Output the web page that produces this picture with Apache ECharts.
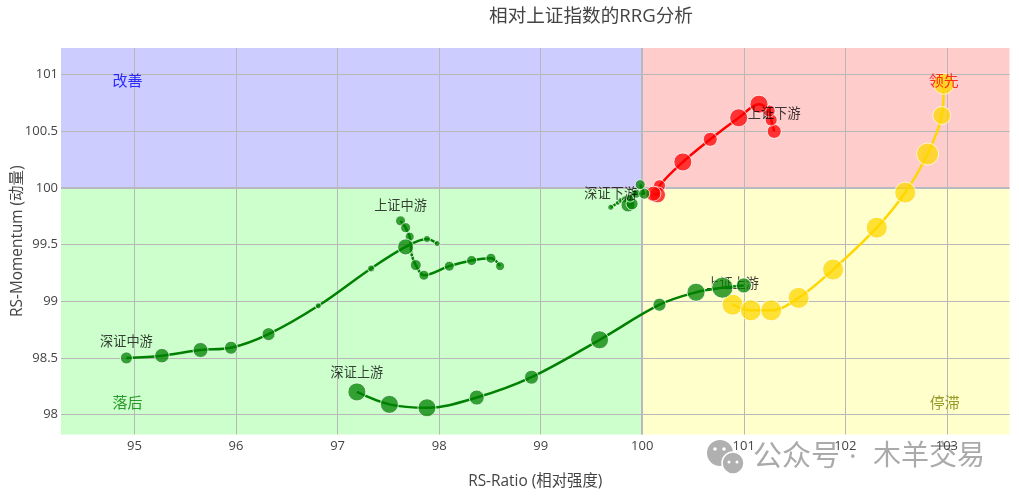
<!DOCTYPE html>
<html>
<head>
<meta charset="utf-8">
<style>
  html, body { margin: 0; padding: 0; background: #fff; }
  #main { width: 1019px; height: 500px; }
</style>
<script src="https://cdn.jsdelivr.net/npm/echarts@6/dist/echarts.min.js"></script>
</head>
<body>
<div id="main"></div>
<script>
// 上证上游
var shUpX = [100.89, 101.07, 101.27, 101.54, 101.88, 102.31, 102.59, 102.81, 102.95, 102.97];
var shUpY = [98.97, 98.92, 98.92, 99.03, 99.28, 99.65, 99.96, 100.30, 100.64, 100.92];
var shUpSize = [21, 21, 21, 21, 21, 21, 21, 22, 18, 21];
// 上证中游
var shMidX = [97.62, 97.67, 97.71, 97.73, 97.77, 97.85, 98.10, 98.32, 98.51, 98.60];
var shMidY = [99.71, 99.65, 99.57, 99.41, 99.32, 99.23, 99.31, 99.36, 99.38, 99.31];
var shMidSize = [10, 10, 9, 4, 11, 10, 10, 10, 10, 9];
// 上证下游
var shDownX = [101.30, 101.27, 101.25, 101.15, 100.95, 100.67, 100.40, 100.17, 100.15, 100.11];
var shDownY = [100.50, 100.60, 100.68, 100.74, 100.62, 100.43, 100.23, 100.02, 99.94, 99.95];
var shDownSize = [14, 12, 12, 18, 18, 14, 18, 12, 16, 15];
// 深证上游
var szUpX = [97.19, 97.51, 97.88, 98.37, 98.91, 99.58, 100.17, 100.53, 100.79, 101.00];
var szUpY = [98.20, 98.09, 98.06, 98.15, 98.33, 98.66, 98.97, 99.08, 99.12, 99.14];
var szUpSize = [18, 18, 18, 15, 14, 18, 13, 18, 21, 15];
// 深证中游
var szMidX = [94.92, 95.27, 95.65, 95.95, 96.32, 96.81, 97.33, 97.67, 97.88, 97.98];
var szMidY = [98.50, 98.52, 98.57, 98.59, 98.71, 98.96, 99.29, 99.48, 99.55, 99.51];
var szMidSize = [12, 14.5, 15, 13, 13, 6, 7, 16, 7, 6];
// 深证下游
var szDownX = [99.69, 99.76, 99.79, 99.83, 99.86, 99.90, 99.88, 99.94, 100.02, 99.98];
var szDownY = [99.83, 99.87, 99.89, 99.90, 99.85, 99.86, 99.91, 99.95, 99.95, 100.03];
var szDownSize = [6, 5, 6, 7, 14, 12, 8, 9, 11, 10];

// 象限标注
var quadrantNames = ['改善', '领先', '落后', '停滞'];
var quadrantX = [94.93, 102.97, 94.93, 102.98];
var quadrantY = [100.94, 100.94, 98.10, 98.10];
var quadrantColors = ['#0000ff', '#ff0000', '#008000', '#808000'];

// 刻度
var xTicks = [95, 96, 97, 98, 99, 100, 101, 102, 103];
var yTicks = [98, 98.5, 99, 99.5, 100, 100.5, 101];

var xMin = 94.276, xMax = 103.617;
var yMin = 97.824, yMax = 101.236;
var center = 100;

var font = '"Open Sans", "Noto Sans CJK SC", sans-serif';

function trail(name, xs, ys, sizes, color, z) {
  return {
    name: name,
    type: 'line',
    z: z,
    smooth: 0.35,
    showSymbol: true,
    showAllSymbol: true,
    symbol: 'circle',
    symbolSize: function (val, params) {
      return sizes[params.dataIndex];
    },
    lineStyle: { color: color, width: 2.5 },
    itemStyle: { color: color, opacity: 0.75, borderColor: '#fff', borderWidth: 1 },
    emphasis: { disabled: true },
    data: xs.map(function (x, i) {
      var item = { value: [x, ys[i]] };
      // 只在起点标名字
      if (i === 0) {
        item.label = {
          show: true,
          position: 'top',
          distance: 3,
          formatter: name,
          color: '#000',
          fontSize: 13.2,
          fontFamily: font
        };
      }
      return item;
    })
  };
}

var option = {
  backgroundColor: '#fff',
  animation: false,
  textStyle: { fontFamily: font },
  title: {
    text: '相对上证指数的RRG分析',
    left: 586,
    top: 2,
    textAlign: 'center',
    textStyle: { fontSize: 18.6, fontWeight: 'normal', color: '#444', fontFamily: font }
  },
  grid: { left: 61, right: 9.5, top: 48, bottom: 65.5, outerBoundsMode: 'none' },
  xAxis: {
    type: 'value',
    min: xMin,
    max: xMax,
    name: 'RS-Ratio (相对强度)',
    nameLocation: 'middle',
    nameMoveOverlap: false,
    nameGap: 39,
    nameTextStyle: { fontSize: 15.4, color: '#444' },
    axisLine: { show: false },
    axisTick: { show: false, customValues: xTicks },
    axisLabel: { color: '#444', fontSize: 13, margin: 5, customValues: xTicks },
    splitLine: { show: true, lineStyle: { color: '#b8b8b8', width: 1 } }
  },
  yAxis: {
    type: 'value',
    min: yMin,
    max: yMax,
    name: 'RS-Momentum (动量)',
    nameLocation: 'middle',
    nameMoveOverlap: false,
    nameGap: 36,
    nameTextStyle: { fontSize: 15.4, color: '#444' },
    axisLine: { show: false },
    axisTick: { show: false, customValues: yTicks },
    axisLabel: { color: '#444', fontSize: 13, margin: 3, customValues: yTicks },
    splitLine: { show: true, lineStyle: { color: '#b8b8b8', width: 1 } }
  },
  graphic: [
    {
      type: 'group', x: 0, y: 0, z: 1, silent: true,
      children: [
        { type: 'circle', shape: { cx: 720, cy: 453, r: 13 }, style: { fill: '#b0b0b0' } },
        { type: 'circle', shape: { cx: 733, cy: 463, r: 11 }, style: { fill: '#b0b0b0', stroke: '#fff', lineWidth: 1.5 } },
        { type: 'circle', shape: { cx: 715, cy: 449, r: 1.8 }, style: { fill: '#fff' } },
        { type: 'circle', shape: { cx: 724, cy: 449, r: 1.8 }, style: { fill: '#fff' } },
        { type: 'circle', shape: { cx: 729, cy: 462, r: 1.5 }, style: { fill: '#fff' } },
        { type: 'circle', shape: { cx: 737, cy: 462, r: 1.5 }, style: { fill: '#fff' } },
        { type: 'text', x: 753, y: 443, style: { text: '公众号', fill: '#aaa', fontSize: 29, fontFamily: font } },
        { type: 'text', x: 849, y: 443, style: { text: '·', fill: '#aaa', fontSize: 29, fontFamily: font } },
        { type: 'text', x: 873, y: 443, style: { text: '木羊交易', fill: '#aaa', fontSize: 28, fontFamily: font } }
      ]
    }
  ],
  series: [
    {
      // 四象限底色和中心线
      name: 'bg',
      type: 'line',
      z: -2,
      data: [],
      silent: true,
      markArea: {
        silent: true,
        z: -2,
        itemStyle: { opacity: 1 },
        data: [
          [{ coord: [xMin, center], itemStyle: { color: '#ccccff' } }, { coord: [center, yMax] }],
          [{ coord: [center, center], itemStyle: { color: '#ffcccc' } }, { coord: [xMax, yMax] }],
          [{ coord: [xMin, yMin], itemStyle: { color: '#ccffcc' } }, { coord: [center, center] }],
          [{ coord: [center, yMin], itemStyle: { color: '#ffffcc' } }, { coord: [xMax, center] }]
        ]
      },
      markLine: {
        silent: true,
        z: 1,
        symbol: 'none',
        label: { show: false },
        lineStyle: { color: '#b8b8c0', width: 2, type: 'solid' },
        data: [{ xAxis: center }, { yAxis: center }]
      }
    },
    trail('上证上游', shUpX, shUpY, shUpSize, '#ffd700', 3),
    trail('上证中游', shMidX, shMidY, shMidSize, '#008000', 4),
    trail('上证下游', shDownX, shDownY, shDownSize, '#ff0000', 5),
    trail('深证上游', szUpX, szUpY, szUpSize, '#008000', 6),
    trail('深证中游', szMidX, szMidY, szMidSize, '#008000', 7),
    trail('深证下游', szDownX, szDownY, szDownSize, '#008000', 8),
    {
      name: 'quadrant',
      type: 'scatter',
      z: 9,
      silent: true,
      symbolSize: 1,
      itemStyle: { color: 'transparent' },
      data: quadrantNames.map(function (n, i) {
        return {
          value: [quadrantX[i], quadrantY[i]],
          label: {
            show: true,
            position: 'inside',
            formatter: n,
            color: quadrantColors[i],
            fontSize: 15,
            fontFamily: font
          }
        };
      })
    }
  ]
};

var chart = echarts.init(document.getElementById('main'));
chart.setOption(option);
</script>
</body>
</html>
